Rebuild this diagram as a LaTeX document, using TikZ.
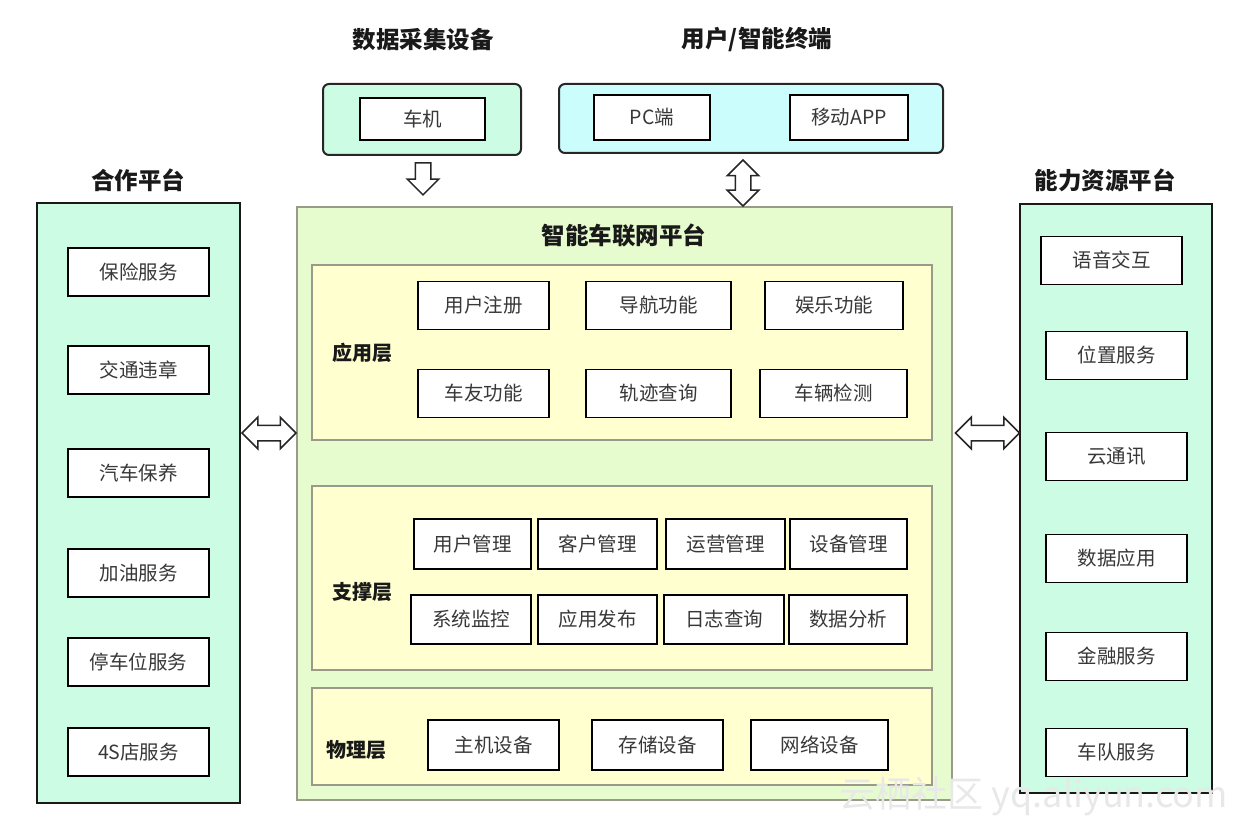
\documentclass[tikz,border=0pt]{standalone}
\usepackage{fontspec}
\setmainfont{Noto Sans CJK SC}
\usetikzlibrary{shapes.arrows}

\definecolor{mint}{HTML}{CCFCE4}
\definecolor{icecyan}{HTML}{CCFDFD}
\definecolor{paleleaf}{HTML}{E6FCCF}
\definecolor{palecream}{HTML}{FFFFCF}
\definecolor{txtgray}{HTML}{383838}
\definecolor{rimgray}{HTML}{9A9A8A}

\tikzset{
  item/.style={draw=black, line width=1.6pt, fill=white, minimum width=141pt,
    minimum height=48pt, inner sep=0pt, text=txtgray, font=\fontsize{19.5}{21}\selectfont},
  panel/.style={draw=black!90, line width=2pt, fill=mint},
  topbox/.style={draw=black!85, line width=2pt, rounded corners=6pt},
  layer/.style={draw=rimgray, line width=1.4pt, fill=palecream},
  title/.style={font=\bfseries\fontsize{23.5}{25}\selectfont, text=black!90},
  layertitle/.style={font=\bfseries\fontsize{20}{22}\selectfont, text=black!90},
  dblarrow/.style={double arrow, draw=black!85, line width=1.5pt, fill=white,
    inner xsep=0pt, inner ysep=7pt, double arrow head extend=8pt, minimum width=0pt},
  sglarrow/.style={single arrow, draw=black!85, line width=1.5pt, fill=white,
    inner xsep=0pt, inner ysep=7pt, single arrow head extend=8pt, minimum width=0pt}
}

\begin{document}
\begin{tikzpicture}[x=1pt,y=-1pt]
  \useasboundingbox (0,0) rectangle (1250,829);

  % side platforms
  \node[title] (cooptitle) at (138,180) {合作平台};
  \node[panel, minimum width=203pt, minimum height=600pt] (coop) at (138.5,503) {};
  \foreach \name/\y [count=\i] in {保险服务/272, 交通违章/370, 汽车保养/473,
      加油服务/573, 停车位服务/662, 4S店服务/752} {
    \node[item] (coop\i) at (138.5,\y) {\name};
  }

  \node[title] (restitle) at (1105,180) {能力资源平台};
  \node[panel, minimum width=192pt, minimum height=589pt] (res) at (1116,498.5) {};
  \foreach \name/\x/\y [count=\i] in {语音交互/1111.5/260.5, 位置服务/1116.5/355.5,
      云通讯/1116.5/456.5, 数据应用/1116.5/558.5, 金融服务/1116.5/656.5, 车队服务/1116.5/752.5} {
    \node[item] (res\i) at (\x,\y) {\name};
  }

  % top devices
  \node[title] (devtitle) at (423,40) {数据采集设备};
  \node[topbox, fill=mint, minimum width=198pt, minimum height=71pt] (dev) at (422,119.5) {};
  \node[item, minimum width=125pt, minimum height=42pt] (carunit) at (422.5,119) {车机};

  \node[title] (termtitle) at (757,40) {用户/智能终端};
  \node[topbox, fill=icecyan, minimum width=384pt, minimum height=69pt] (term) at (751,118.5) {};
  \node[item, minimum width=116pt, minimum height=45pt] (pc) at (652,117.5) {PC端};
  \node[item, minimum width=118pt, minimum height=45pt] (app) at (849,117.5) {移动APP};

  % platform
  \node[draw=rimgray, line width=1.4pt, fill=paleleaf, minimum width=655pt,
    minimum height=593pt] (platform) at (624.5,503.5) {};
  \node[title] (platformtitle) at (624,235) {智能车联网平台};

  % application layer
  \node[layer, minimum width=620pt, minimum height=175pt] (applayer) at (622,352.5) {};
  \node[layertitle] (applabel) at (362,353) {应用层};
  \node[item, minimum width=131pt] (a1) at (483.5,305.5) {用户注册};
  \node[item, minimum width=145pt] (a2) at (658.5,305.5) {导航功能};
  \node[item, minimum width=138pt] (a3) at (834,305.5) {娱乐功能};
  \node[item, minimum width=131pt] (a4) at (483.5,393.5) {车友功能};
  \node[item, minimum width=145pt] (a5) at (658.5,393.5) {轨迹查询};
  \node[item, minimum width=147pt] (a6) at (833.5,393.5) {车辆检测};

  % support layer
  \node[layer, minimum width=620pt, minimum height=184pt] (suplayer) at (622,578) {};
  \node[layertitle] (suplabel) at (362,592) {支撑层};
  \foreach \name/\x/\w [count=\i] in {用户管理/472.5/117, 客户管理/597.5/119,
      运营管理/725.5/119, 设备管理/848.5/117} {
    \node[item, minimum width=\w pt, minimum height=50pt] (s\i) at (\x,544) {\name};
  }
  \foreach \name/\x/\w [count=\i from 5] in {系统监控/471/120, 应用发布/597.5/119,
      日志查询/724/120, 数据分析/848/118} {
    \node[item, minimum width=\w pt, minimum height=49pt] (s\i) at (\x,619.5) {\name};
  }

  % physical layer
  \node[layer, minimum width=620pt, minimum height=97pt] (phylayer) at (622,736.5) {};
  \node[layertitle] (phylabel) at (356,750) {物理层};
  \node[item, minimum width=131pt, minimum height=50pt] (p1) at (493.5,745) {主机设备};
  \node[item, minimum width=131pt, minimum height=50pt] (p2) at (657.5,745) {存储设备};
  \node[item, minimum width=137pt, minimum height=50pt] (p3) at (819.5,745) {网络设备};

  % block arrows
  \node[sglarrow, rotate=-90, minimum height=32pt] (devarrow) at (423,175) {};
  \node[dblarrow, rotate=90, minimum height=46pt] (termarrow) at (743,183) {};
  \node[dblarrow, minimum height=54pt] (cooparrow) at (269,433) {};
  \node[dblarrow, minimum height=64pt] (resarrow) at (987.5,433) {};

  \node[text=black!9, font=\fontsize{36}{38}\selectfont] (mark) at (1034,797) {云栖社区 yq.aliyun.com};
\end{tikzpicture}
\end{document}
